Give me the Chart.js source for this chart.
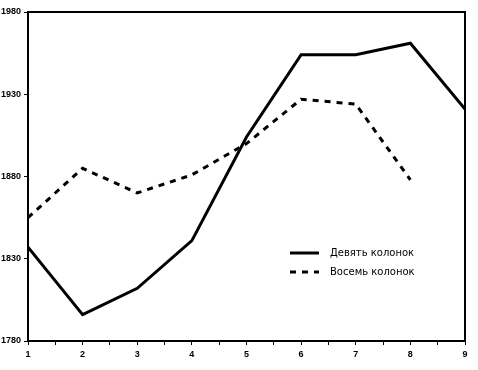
<!DOCTYPE html>
<html><head><meta charset="utf-8">
<script src="https://cdn.jsdelivr.net/npm/chart.js@4/dist/chart.umd.min.js"></script>
<style>html,body{margin:0;padding:0;background:#fff}canvas{display:block}</style>
</head><body>
<canvas id="c" width="478" height="370"></canvas>
<script>
const categories = [1, 2, 3, 4, 5, 6, 7, 8, 9];
const seriesNames = ["Девять колонок", "Восемь колонок"];
const nineColumns = [1837, 1796, 1812, 1841, 1904, 1954, 1954, 1961, 1921];
const eightColumns = [1855, 1885, 1870, 1881, 1900, 1927, 1924, 1878];
const yTicks = [1780, 1830, 1880, 1930, 1980];

const tickFont = {family: "'Liberation Sans Narrow','Liberation Sans',Arial", size: 9, weight: 'bold'};

const frame = {
  id: 'frame',
  afterDraw(chart) {
    const {ctx, chartArea: a} = chart;
    ctx.save();
    ctx.strokeStyle = '#000';
    ctx.lineWidth = 2;
    ctx.strokeRect(a.left, a.top, a.right - a.left, a.bottom - a.top);
    // legend inside plot
    const items = chart.data.datasets;
    const x0 = 290, x1 = 319, tx = 330;
    let y = 253;
    ctx.font = "10px 'DejaVu Sans', Verdana, sans-serif";
    ctx.textBaseline = 'middle';
    ctx.fillStyle = '#000';
    items.forEach(ds => {
      ctx.beginPath();
      ctx.lineWidth = ds.borderWidth;
      ctx.strokeStyle = ds.borderColor;
      ctx.setLineDash(ds.borderDash || []);
      ctx.moveTo(x0, y); ctx.lineTo(x1, y); ctx.stroke();
      ctx.setLineDash([]);
      ctx.fillText(ds.label, tx, y);
      y += 19;
    });
    ctx.restore();
  }
};

new Chart(document.getElementById('c'), {
  type: 'line',
  data: {
    datasets: [
      {label: seriesNames[0], data: categories.map((c, i) => ({x: c, y: nineColumns[i]})),
       borderColor: '#000', borderWidth: 3, pointRadius: 0, tension: 0, fill: false},
      {label: seriesNames[1], data: eightColumns.map((v, i) => ({x: categories[i], y: v})),
       borderColor: '#000', borderWidth: 3, borderDash: [6, 6], pointRadius: 0, tension: 0, fill: false}
    ]
  },
  options: {
    responsive: false, animation: false,
    layout: {padding: {top: 12, right: 13, left: 0, bottom: 0}},
    plugins: {legend: {display: false}, tooltip: {enabled: false}},
    scales: {
      x: {
        type: 'linear', min: 1, max: 9,
        afterFit: s => { s.height = 29; },
        ticks: {stepSize: 0.5, autoSkip: false, maxRotation: 0, color: '#000', font: tickFont, padding: 4,
          callback: v => Number.isInteger(v) ? String(v) : ''},
        grid: {drawOnChartArea: false, drawTicks: true, tickLength: 4, color: '#000'},
        border: {color: '#000', width: 2}
      },
      y: {
        min: 1780, max: 1980,
        afterFit: s => { s.width = 28; },
        afterBuildTicks: s => { s.ticks = yTicks.map(v => ({value: v})); },
        ticks: {color: '#000', font: tickFont, padding: 3, callback: v => String(v)},
        grid: {drawOnChartArea: false, drawTicks: true, tickLength: 4, color: '#000'},
        border: {color: '#000', width: 2}
      }
    }
  },
  plugins: [frame]
});
</script>
</body></html>
